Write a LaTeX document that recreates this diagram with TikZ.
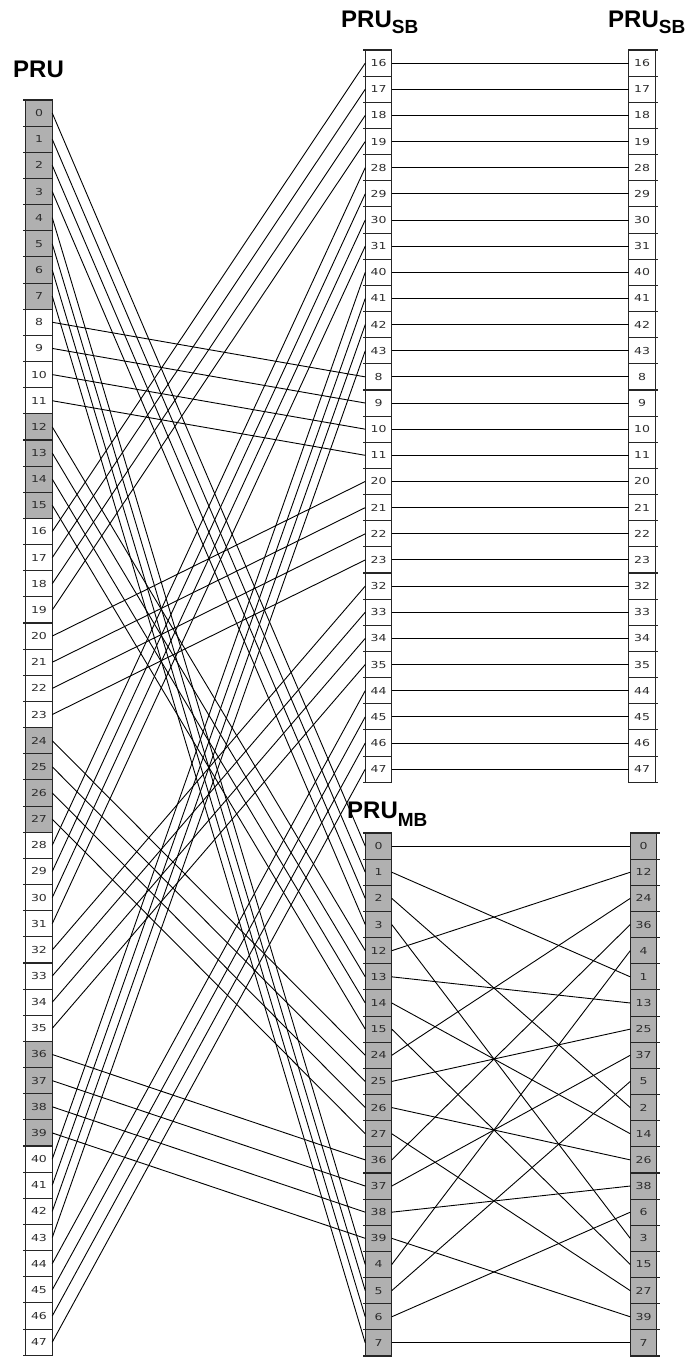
\documentclass[tikz,border=0pt]{standalone}
\usepackage{fontspec}
\setmainfont{Liberation Sans}
\newfontfamily\dvfont{DejaVu Sans}
\definecolor{cellgray}{RGB}{176,176,176}
\definecolor{labcol}{RGB}{45,45,45}
\newcommand\celllab[1]{\scalebox{1.3}[1]{\dvfont\fontsize{9.6}{9.6}\selectfont\color{labcol}#1}}
\newcommand\titlesub[2]{\fontsize{24}{24}\selectfont\bfseries PRU\raisebox{-#2pt}{\fontsize{19}{19}\selectfont #1}}
\begin{document}
\begin{tikzpicture}[x=1pt,y=-1pt,
  cell/.style={draw=black!85, line width=1.1pt, rectangle, inner sep=0pt, outer sep=0pt,
    minimum width=26.5pt, minimum height=26.15pt},
  graycell/.style={cell, fill=cellgray},
  whitecell/.style={cell, fill=white},
  conn/.style={line width=0.9pt, black},
  tick/.style={line width=1.1pt, black!85},
  title/.style={anchor=base west, inner sep=0pt}]
\useasboundingbox (0,0) rectangle (693,1360);
\def\h{26.15}
% titles
\node[title] (tL) at (13,77) {\fontsize{24}{24}\selectfont\bfseries PRU};
\node[title] (tS) at (341,27) {\titlesub{SB}{6}};
\node[title] (tR) at (608,27) {\titlesub{SB}{6}};
\node[title] (tM) at (347,818) {\titlesub{MB}{8}};
% left column
\foreach \i in {0,...,47}{
  \pgfmathsetmacro\yy{100+(\i+0.5)*\h}
  \pgfmathtruncatemacro\g{(\i<8)||(mod(\i,12)<4)}
  \ifnum\g=1
    \node[graycell] (L\i) at (39,\yy) {\celllab{\i}};
  \else
    \node[whitecell] (L\i) at (39,\yy) {\celllab{\i}};
  \fi
  \draw[tick] (L\i.north west) -- ++(-3,0);
}
\draw[tick] (L47.south west) -- ++(-3,0);
% middle and right SB
\foreach \lab [count=\k from 0] in {16,17,18,19,28,29,30,31,40,41,42,43,8,9,10,11,20,21,22,23,32,33,34,35,44,45,46,47}{
  \pgfmathsetmacro\yy{50+(\k+0.5)*\h}
  \node[whitecell] (S\lab) at (378.5,\yy) {\celllab{\lab}};
  \node[whitecell] (RS\lab) at (642,\yy) {\celllab{\lab}};
  \draw[tick] (S\lab.north west) -- ++(-2,0);
  \draw[tick] (RS\lab.north east) -- ++(3,0);
}
\draw[tick] (S47.south west) -- ++(-2,0);
\draw[tick] (RS47.south east) -- ++(3,0);
% middle MB
\foreach \lab [count=\k from 0] in {0,1,2,3,12,13,14,15,24,25,26,27,36,37,38,39,4,5,6,7}{
  \pgfmathsetmacro\yy{833+(\k+0.5)*\h}
  \node[graycell] (M\lab) at (378.5,\yy) {\celllab{\lab}};
  \draw[tick] (M\lab.north west) -- ++(-2,0);
}
\draw[tick] (M7.south west) -- ++(-2,0);
% right MB
\foreach \lab [count=\k from 0] in {0,12,24,36,4,1,13,25,37,5,2,14,26,38,6,3,15,27,39,7}{
  \pgfmathsetmacro\yy{833+(\k+0.5)*\h}
  \node[graycell] (RM\lab) at (643.5,\yy) {\celllab{\lab}};
  \draw[tick] (RM\lab.north east) -- ++(3,0);
}
\draw[tick] (RM7.south east) -- ++(3,0);
% connectors
\foreach \lab in {16,17,18,19,28,29,30,31,40,41,42,43,8,9,10,11,20,21,22,23,32,33,34,35,44,45,46,47}{
  \draw[conn] (L\lab.east) -- (S\lab.west);
  \draw[conn] (S\lab.east) -- (RS\lab.west);
}
\foreach \lab in {0,1,2,3,12,13,14,15,24,25,26,27,36,37,38,39,4,5,6,7}{
  \draw[conn] (L\lab.east) -- (M\lab.west);
  \draw[conn] (M\lab.east) -- (RM\lab.west);
}
\end{tikzpicture}
\end{document}
